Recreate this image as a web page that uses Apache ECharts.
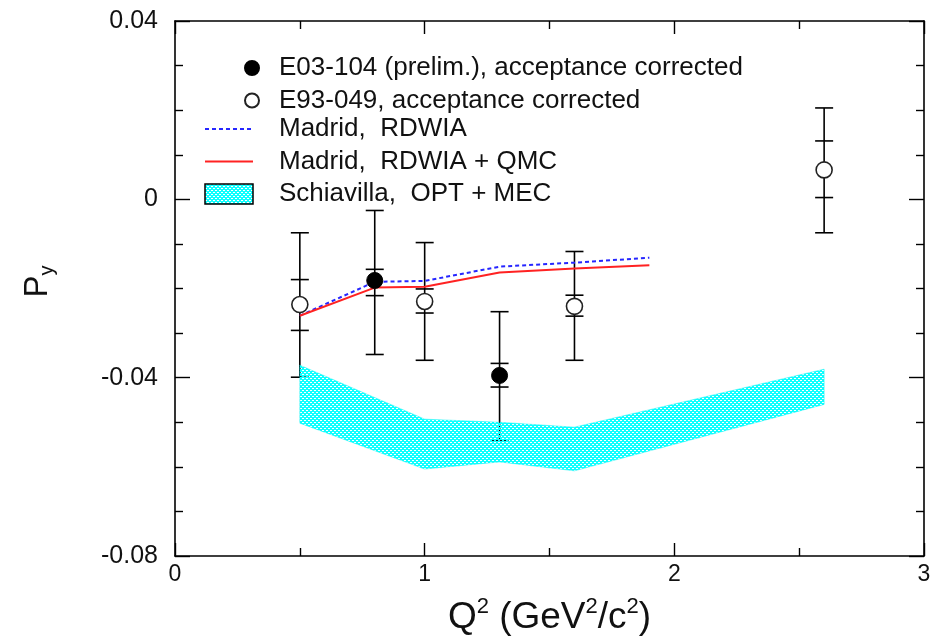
<!DOCTYPE html>
<html>
<head>
<meta charset="utf-8">
<script src="https://cdn.jsdelivr.net/npm/echarts@6/dist/echarts.min.js"></script>
<style>html,body{margin:0;padding:0;background:#fff;}#c{width:933px;height:642px;}</style>
</head>
<body>
<div id="c"></div>
<script>
// ---- data ----
var e03X = [0.8, 1.3];
var e03Y = [-0.0182, -0.0395];
var e03OutLo = [-0.0348, -0.0540];
var e03OutHi = [-0.0025, -0.0252];
var e03InLo = [-0.0216, -0.0421];
var e03InHi = [-0.0157, -0.0368];

var e93X = [0.5, 1.0, 1.6, 2.6];
var e93Y = [-0.0236, -0.0229, -0.0240, 0.0066];
var e93OutLo = [-0.0399, -0.0361, -0.0361, -0.0075];
var e93OutHi = [-0.0075, -0.0097, -0.0117, 0.0205];
var e93InLo = [-0.0294, -0.0255, -0.0262, 0.0004];
var e93InHi = [-0.0180, -0.0201, -0.0215, 0.0131];

var madridX = [0.5, 0.8, 1.0, 1.3, 1.6, 1.9];
var rdwiaY = [-0.0261, -0.0185, -0.0183, -0.0151, -0.0142, -0.0131];
var qmcY = [-0.0261, -0.0198, -0.0196, -0.0164, -0.0155, -0.0148];

var bandX = [0.5, 1.0, 1.3, 1.6, 2.6];
var bandUpper = [-0.0372, -0.0493, -0.0500, -0.0511, -0.0381];
var bandLower = [-0.0502, -0.0605, -0.0589, -0.0609, -0.0460];

var xTicks = [0, 1, 2, 3];
var yTicks = [-0.08, -0.04, 0, 0.04];

var names = [
  'E03-104 (prelim.), acceptance corrected',
  'E93-049, acceptance corrected',
  'Madrid,  RDWIA',
  'Madrid,  RDWIA + QMC',
  'Schiavilla,  OPT + MEC'
];

// ---- hatch pattern ----
var pc = document.createElement('canvas');
pc.width = 4; pc.height = 4;
var pctx = pc.getContext('2d');
pctx.fillStyle = '#10ffff';
pctx.fillRect(0, 0, 4, 4);
pctx.clearRect(0, 0, 1, 1);
pctx.clearRect(2, 2, 1, 1);
pctx.clearRect(1, 0, 1, 1);
pctx.clearRect(3, 2, 1, 1);
var hatch = { image: pc, repeat: 'repeat' };

var FONT = 'Liberation Sans, Arial, sans-serif';
var BLUE = '#2626ff', RED = '#ff2222';

function zip(xs, ys) { return xs.map(function (x, i) { return [x, ys[i]]; }); }
function errData(xs, ys, lo, hi, ilo, ihi) {
  return xs.map(function (x, i) { return [x, ys[i], lo[i], hi[i], ilo[i], ihi[i]]; });
}
function errRender(params, api) {
  var x = api.value(0);
  var pHi = api.coord([x, api.value(3)]);
  var pLo = api.coord([x, api.value(2)]);
  var pIl = api.coord([x, api.value(4)]);
  var pIh = api.coord([x, api.value(5)]);
  var hw = 9;
  var st = { stroke: '#000', lineWidth: 1.6 };
  function cap(p) {
    return { type: 'line', shape: { x1: p[0] - hw, y1: p[1], x2: p[0] + hw, y2: p[1] }, style: st };
  }
  return {
    type: 'group',
    children: [
      { type: 'line', shape: { x1: pHi[0], y1: pHi[1], x2: pLo[0], y2: pLo[1] }, style: st },
      cap(pHi), cap(pLo), cap(pIl), cap(pIh)
    ]
  };
}
function bandRender(params, api) {
  if (params.dataIndex !== 0) return null;
  var pts = [];
  for (var i = 0; i < bandX.length; i++) pts.push(api.coord([bandX[i], bandUpper[i]]));
  for (var j = bandX.length - 1; j >= 0; j--) pts.push(api.coord([bandX[j], bandLower[j]]));
  return {
    type: 'polygon',
    shape: { points: pts },
    style: { fill: hatch, stroke: 'rgba(0,245,245,0.45)', lineWidth: 1 }
  };
}

function axisLine() { return { show: true, onZero: false, lineStyle: { color: '#000', width: 1.6 } }; }
function tick(len) { return { show: true, inside: true, length: len, lineStyle: { color: '#000', width: 1.4 } }; }
function minor(n) { return { show: true, splitNumber: n, length: 8, lineStyle: { color: '#000', width: 1.4 } }; }
var transparentSym = { color: 'rgba(0,0,0,0)', borderColor: 'rgba(0,0,0,0)', borderWidth: 0 };

var chart = echarts.init(document.getElementById('c'), null, { renderer: 'canvas' });
chart.setOption({
  backgroundColor: '#fff',
  animation: false,
  grid: { left: 175, right: 9, top: 21, bottom: 86, containLabel: false, outerBoundsMode: 'none' },
  legend: [
    {
      data: [names[0], names[1]],
      orient: 'vertical', left: 239, top: 50,
      itemWidth: 14, itemHeight: 14, itemGap: 6.5,
      selectedMode: false,
      textStyle: { fontFamily: FONT, fontSize: 26, color: '#111', lineHeight: 24, padding: [0, 0, 0, 15] }
    },
    {
      data: [
        { name: names[2], itemStyle: transparentSym, lineStyle: { color: BLUE, width: 2, type: [4, 3] } },
        { name: names[3], itemStyle: transparentSym, lineStyle: { color: RED, width: 2 } },
        { name: names[4], icon: 'rect', itemStyle: { color: hatch, borderColor: '#000', borderWidth: 1.5 } }
      ],
      orient: 'vertical', left: 199, top: 111,
      itemWidth: 48, itemHeight: 20, itemGap: 6.5,
      selectedMode: false,
      textStyle: { fontFamily: FONT, fontSize: 26, color: '#111', lineHeight: 24, padding: [0, 0, 0, 21] }
    }
  ],
  xAxis: [
    {
      type: 'value', min: xTicks[0], max: xTicks[xTicks.length - 1], interval: 1,
      position: 'bottom', axisLine: axisLine(), splitLine: { show: false },
      axisTick: tick(13), minorTick: minor(2),
      axisLabel: { fontFamily: FONT, fontSize: 23, color: '#111', margin: 7,
        formatter: function (v) { return String(Math.round(v)); } },
      name: 'Q{sup|2} (GeV{sup|2}/c{sup|2})',
      nameLocation: 'middle', nameGap: 40,
      nameTextStyle: { fontFamily: FONT, fontSize: 37, color: '#111', lineHeight: 44,
        rich: { sup: { fontFamily: FONT, fontSize: 22, color: '#111', verticalAlign: 'top', lineHeight: 24 } } }
    },
    {
      type: 'value', min: xTicks[0], max: xTicks[xTicks.length - 1], interval: 1,
      position: 'top', axisLine: axisLine(), splitLine: { show: false },
      axisTick: tick(13), minorTick: minor(2),
      axisLabel: { show: false }
    }
  ],
  yAxis: [
    {
      type: 'value', min: yTicks[0], max: yTicks[yTicks.length - 1], interval: 0.04,
      position: 'left', axisLine: axisLine(), splitLine: { show: false },
      axisTick: tick(15), minorTick: minor(4),
      axisLabel: { fontFamily: FONT, fontSize: 25, color: '#111', margin: 17,
        formatter: function (v) { return Math.abs(v) < 1e-9 ? '0' : v.toFixed(2); } },
      name: 'P{sub|y}',
      nameLocation: 'middle', nameGap: 118, nameRotate: 90,
      nameTextStyle: { fontFamily: FONT, fontSize: 33, color: '#111', lineHeight: 38, padding: [0, 0, 0, 14],
        rich: { sub: { fontFamily: FONT, fontSize: 20, color: '#111', verticalAlign: 'bottom', lineHeight: 20 } } }
    },
    {
      type: 'value', min: yTicks[0], max: yTicks[yTicks.length - 1], interval: 0.04,
      position: 'right', axisLine: axisLine(), splitLine: { show: false },
      axisTick: tick(15), minorTick: minor(4),
      axisLabel: { show: false }
    }
  ],
  series: [
    {
      name: 'err-e93', type: 'custom', xAxisIndex: 0, yAxisIndex: 0, z: 2,
      renderItem: errRender, encode: { x: 0, y: [2, 3] },
      data: errData(e93X, e93Y, e93OutLo, e93OutHi, e93InLo, e93InHi)
    },
    {
      name: 'err-e03', type: 'custom', xAxisIndex: 0, yAxisIndex: 0, z: 2,
      renderItem: errRender, encode: { x: 0, y: [2, 3] },
      data: errData(e03X, e03Y, e03OutLo, e03OutHi, e03InLo, e03InHi)
    },
    {
      name: names[4], type: 'custom', xAxisIndex: 0, yAxisIndex: 0, z: 3,
      renderItem: bandRender, encode: { x: 0, y: [1, 2] },
      itemStyle: { color: '#10ffff' },
      data: bandX.map(function (x, i) { return [x, bandUpper[i], bandLower[i]]; })
    },
    {
      name: names[2], type: 'line', z: 4, symbol: 'none',
      lineStyle: { color: BLUE, width: 2, type: [4, 3] },
      itemStyle: { color: BLUE },
      data: zip(madridX, rdwiaY)
    },
    {
      name: names[3], type: 'line', z: 4, symbol: 'none',
      lineStyle: { color: RED, width: 2 },
      itemStyle: { color: RED },
      data: zip(madridX, qmcY)
    },
    {
      name: names[1], type: 'scatter', z: 5, symbol: 'circle', symbolSize: 16,
      itemStyle: { color: '#fff', borderColor: '#222', borderWidth: 1.6, opacity: 1 },
      data: zip(e93X, e93Y)
    },
    {
      name: names[0], type: 'scatter', z: 5, symbol: 'circle', symbolSize: 16,
      itemStyle: { color: '#000', borderColor: '#000', borderWidth: 1, opacity: 1 },
      data: zip(e03X, e03Y)
    }
  ]
});
</script>
</body>
</html>
